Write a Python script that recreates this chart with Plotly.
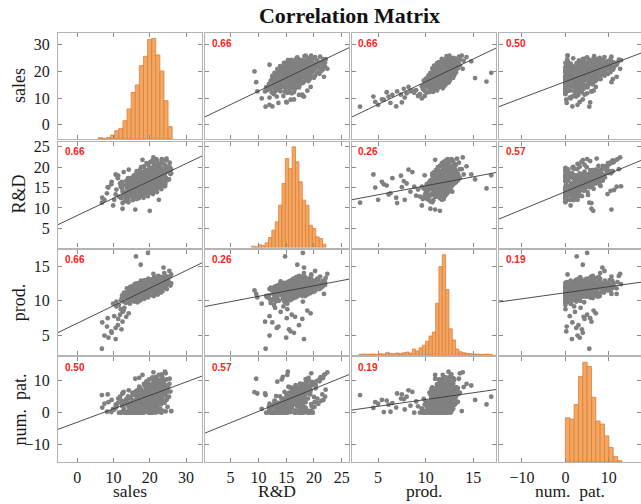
import plotly.graph_objects as go

# ---------------- data ----------------
var_labels = ["sales", "R&D", "prod.", "num.\u00a0\u00a0pat."]

sales = [
    6.8, 8.6, 10.6, 6.9, 9.5, 10.6, 9.4, 11.2, 12.5, 11.3, 8.2, 12.5, 11.8, 10.2, 12.0, 13.0, 10.8, 12.8, 11.5, 9.9, 7.5, 13.5, 14.2, 12.2,
    16.2, 19.5, 20.0, 12.5, 16.0, 17.1, 8.4, 25.9, 10.8, 21.0, 18.0, 22.5, 23.8, 17.5,
    12.1, 12.4, 12.7, 13.0, 13.2, 12.9, 13.4, 12.3,
    13.6, 13.8, 14.0, 14.2, 14.4, 14.6, 13.7, 14.1, 14.5, 13.9, 14.3, 14.6, 14.0, 14.4,
    14.8, 15.0, 15.2, 15.4, 15.6, 14.9, 15.1, 15.3, 15.5, 15.7, 14.8, 15.0, 15.2, 15.4, 15.6, 15.8, 15.1, 15.5, 14.9, 15.7,
    15.9, 16.0, 16.2, 16.4, 16.6, 16.8, 15.9, 16.1, 16.3, 16.5, 16.7, 16.0, 16.2, 16.4, 16.6, 16.8, 15.9, 16.3, 16.5, 16.7, 16.1, 16.9, 16.4, 16.6,
    17.0, 17.1, 17.2, 17.3, 17.4, 17.5, 17.6, 17.7, 17.8, 17.9, 17.0, 17.1, 17.2, 17.3, 17.4, 17.5, 17.6, 17.7, 17.8, 17.9, 17.0, 17.2, 17.4, 17.6, 17.8, 17.1, 17.3, 17.5, 17.7, 17.9, 17.2, 17.6,
    18.0, 18.1, 18.2, 18.3, 18.4, 18.5, 18.6, 18.7, 18.8, 18.9, 19.0, 19.1, 18.0, 18.2, 18.4, 18.6, 18.8, 19.0, 18.1, 18.3, 18.5, 18.7, 18.9, 19.1, 18.2, 18.4, 18.6, 18.8, 19.0, 19.1, 18.3, 18.5, 18.7, 18.9, 18.1, 19.0,
    19.2, 19.3, 19.4, 19.5, 19.6, 19.7, 19.8, 19.9, 20.0, 20.1, 20.2, 20.3, 19.2, 19.4, 19.6, 19.8, 20.0, 20.2, 19.3, 19.5, 19.7, 19.9, 20.1, 20.3, 19.2, 19.4, 19.6, 19.8, 20.0, 20.2, 19.3, 19.5, 19.7, 19.9, 20.1, 20.3, 19.4, 19.6, 19.8, 20.0, 20.2, 19.5,
    20.4, 20.5, 20.6, 20.7, 20.8, 20.9, 21.0, 21.1, 21.2, 21.3, 21.4, 20.4, 20.6, 20.8, 21.0, 21.2, 21.4, 20.5, 20.7, 20.9, 21.1, 21.3, 20.4, 20.6, 20.8, 21.0, 21.2, 21.4, 20.5, 20.7, 20.9, 21.1, 21.3, 20.4, 20.6, 20.8, 21.0, 21.2, 21.4, 20.5, 20.7, 21.1,
    21.5, 21.6, 21.7, 21.8, 21.9, 22.0, 22.1, 22.2, 22.3, 22.4, 22.5, 21.5, 21.7, 21.9, 22.1, 22.3, 22.5, 21.6, 21.8, 22.0, 22.2, 22.4, 21.5, 21.7, 21.9, 22.1, 22.3, 22.5, 21.6, 21.8, 22.0, 22.2, 22.4, 21.5, 21.9, 22.3,
    22.7, 22.8, 22.9, 23.0, 23.1, 23.2, 23.3, 23.4, 23.5, 23.6, 23.7, 22.7, 22.9, 23.1, 23.3, 23.5, 23.7, 22.8, 23.0, 23.2, 23.4, 23.6, 22.7, 22.9, 23.1, 23.3, 23.5, 23.7,
    23.9, 24.0, 24.1, 24.2, 24.3, 24.4, 24.5, 24.6, 24.7, 24.8, 24.9, 24.0, 24.2, 24.4, 24.6, 24.8,
    25.1, 25.3, 25.5, 25.7, 25.9, 25.4,
]

rd = [
    11.3, 15.0, 18.2, 12.5, 16.4, 13.3, 15.8, 17.3, 11.2, 17.9, 13.6, 14.0, 16.0, 12.0, 15.2, 13.0, 14.5, 18.8, 12.8, 10.6, 12.0, 16.6, 19.4, 15.5,
    14.8, 18.0, 9.3, 9.8, 9.6, 19.0, 15.1, 18.5, 18.0, 22.4, 21.8, 12.0, 18.2, 17.0,
    12.4, 14.8, 13.1, 11.6, 15.6, 13.9, 12.2, 16.4,
    13.2, 15.9, 12.1, 14.6, 16.8, 13.7, 14.9, 11.4, 15.2, 13.9, 12.8, 16.1, 17.3, 14.2,
    14.4, 12.9, 16.7, 15.1, 13.5, 17.4, 14.0, 11.9, 15.8, 14.7, 16.2, 13.3, 15.5, 12.6, 17.9, 14.3, 16.0, 13.1, 15.0, 16.5,
    15.3, 13.4, 17.2, 14.6, 16.3, 12.7, 18.1, 14.9, 13.0, 15.7, 17.6, 14.1, 16.0, 12.2, 15.0, 18.5, 13.8, 16.6, 14.4, 15.5, 17.0, 13.6, 19.0, 14.8,
    15.8, 13.9, 17.7, 15.1, 12.8, 16.9, 14.5, 18.8, 16.2, 13.5, 17.4, 15.4, 14.2, 19.3, 16.6, 13.2, 15.9, 17.1, 14.8, 18.2, 12.4, 16.4, 15.3, 20.0, 14.0, 16.8, 15.0, 18.5, 13.7, 16.0, 14.6, 17.6,
    16.3, 14.2, 18.0, 15.5, 13.6, 17.3, 15.0, 19.4, 16.7, 14.7, 17.9, 15.9, 13.0, 16.9, 20.2, 14.4, 16.1, 18.4, 15.2, 12.5, 16.5, 17.6, 15.6, 19.0, 14.9, 17.0, 16.0, 13.9, 16.8, 21.0, 18.3, 15.4, 14.1, 17.2, 16.6, 15.1,
    16.6, 14.5, 18.6, 15.8, 13.9, 17.5, 15.3, 19.8, 17.0, 14.8, 18.1, 16.2, 13.4, 17.2, 20.6, 14.7, 16.4, 18.8, 15.5, 12.9, 16.9, 17.8, 15.9, 19.3, 15.1, 17.4, 16.3, 14.2, 17.1, 21.3, 18.5, 15.7, 14.4, 17.6, 16.7, 15.4, 19.1, 16.0, 13.6, 18.3, 15.0, 17.9,
    17.1, 15.0, 19.1, 16.3, 14.4, 18.0, 15.8, 20.3, 17.5, 15.3, 18.6, 16.7, 13.9, 17.7, 21.1, 15.2, 16.9, 19.3, 16.0, 13.4, 17.4, 18.3, 16.4, 19.8, 15.6, 17.9, 16.8, 14.7, 17.6, 21.6, 19.0, 16.2, 14.9, 18.1, 17.2, 15.9, 19.6, 16.5, 14.1, 18.8, 15.5, 18.4,
    17.6, 15.5, 19.6, 16.8, 14.9, 18.5, 16.3, 20.8, 18.0, 15.8, 19.1, 17.2, 14.4, 18.2, 21.5, 15.7, 17.4, 19.8, 16.5, 13.9, 17.9, 18.8, 16.9, 20.3, 16.1, 18.4, 17.3, 15.2, 18.1, 22.0, 19.5, 16.7, 15.4, 18.6, 18.6, 20.1,
    18.1, 16.0, 20.1, 17.3, 15.4, 19.0, 16.8, 21.2, 18.5, 16.3, 19.6, 17.7, 14.9, 18.7, 22.0, 16.2, 17.9, 20.3, 17.0, 14.6, 18.4, 19.3, 17.4, 20.8, 16.6, 18.9, 21.6, 17.8,
    18.6, 16.5, 20.6, 17.8, 15.9, 19.5, 17.3, 21.7, 19.0, 16.8, 20.1, 18.2, 15.3, 19.2, 22.1, 18.9,
    19.1, 17.0, 21.1, 18.3, 19.5, 20.2,
]

prod = [
    3.1, 4.7, 4.5, 6.9, 5.4, 6.1, 5.6, 6.5, 7.0, 7.4, 6.3, 8.4, 8.0, 7.8, 8.8, 9.0, 9.2, 8.6, 9.4, 9.6, 5.0, 7.7, 8.2, 5.9,
    16.4, 16.9, 11.5, 10.5, 11.0, 12.0, 7.5, 12.5, 9.9, 13.9, 11.0, 11.7, 14.8, 15.2,
    10.1, 10.8, 9.9, 10.5, 10.9, 11.2, 9.7, 10.4,
    10.6, 11.3, 10.2, 10.9, 11.5, 10.0, 11.8, 10.7, 9.6, 11.1, 10.4, 12.0, 10.8, 11.6,
    10.9, 11.4, 10.5, 11.7, 10.2, 11.2, 12.1, 10.8, 11.0, 9.9, 11.9, 10.6, 11.3, 11.6, 10.7, 12.4, 10.3, 11.1, 10.1, 11.8,
    11.2, 10.7, 11.8, 10.4, 11.5, 11.0, 10.9, 12.3, 11.4, 10.1, 12.0, 11.6, 10.6, 11.9, 11.1, 10.8, 11.3, 12.5, 10.3, 11.7, 11.0, 12.2, 11.4, 9.8,
    11.3, 10.9, 11.9, 12.3, 11.1, 10.6, 11.6, 12.0, 10.4, 11.5, 11.8, 12.6, 10.8, 11.2, 11.7, 12.1, 10.2, 11.4, 11.0, 12.4, 11.5, 10.7, 11.9, 11.3, 12.8, 11.6, 10.5, 11.1, 12.2, 11.8, 10.0, 12.9,
    11.5, 11.0, 12.1, 10.8, 11.7, 12.4, 11.2, 11.8, 10.6, 12.0, 11.4, 12.7, 11.3, 10.9, 11.9, 11.6, 12.3, 10.7, 11.1, 11.8, 12.6, 11.0, 11.5, 12.2, 10.4, 11.4, 13.0, 11.2, 11.9, 11.7, 12.5, 10.3, 12.1, 11.3, 11.6, 10.9,
    11.7, 11.2, 12.3, 11.0, 12.0, 12.6, 11.4, 11.9, 10.8, 12.2, 11.6, 12.9, 11.5, 11.1, 12.1, 11.8, 12.5, 10.9, 11.3, 12.0, 12.8, 11.2, 11.7, 12.4, 10.6, 11.6, 13.2, 11.4, 12.1, 11.9, 12.7, 10.5, 12.3, 11.5, 11.8, 11.1, 11.8, 12.4, 11.0, 12.0, 12.6, 11.3,
    11.9, 11.4, 12.5, 11.2, 12.2, 12.8, 11.6, 12.1, 11.0, 12.4, 11.8, 13.1, 11.7, 11.3, 12.3, 12.0, 12.7, 11.1, 11.5, 12.2, 13.0, 11.4, 11.9, 12.6, 10.8, 11.8, 13.4, 11.6, 12.3, 12.1, 12.9, 10.7, 12.5, 11.7, 12.0, 11.3, 12.0, 12.6, 11.2, 12.2, 12.8, 11.5,
    12.1, 11.6, 12.7, 11.4, 12.4, 13.0, 11.8, 12.3, 11.2, 12.6, 12.0, 13.3, 11.9, 11.5, 12.5, 12.2, 12.9, 11.3, 11.7, 12.4, 13.2, 11.6, 12.1, 12.8, 11.0, 12.0, 13.6, 11.8, 12.5, 12.3, 13.1, 10.9, 12.7, 11.9, 12.2, 12.4,
    12.3, 11.8, 12.9, 11.6, 12.6, 13.2, 12.0, 12.5, 11.4, 12.8, 12.2, 13.5, 12.1, 11.7, 12.7, 12.4, 13.1, 11.5, 11.9, 12.6, 13.4, 11.8, 12.3, 13.0, 11.2, 12.2, 12.9, 12.0,
    12.6, 12.0, 13.2, 11.9, 12.9, 13.6, 12.3, 12.8, 11.7, 13.1, 12.5, 14.0, 12.4, 12.1, 13.3, 12.7,
    12.9, 12.4, 13.5, 12.2, 13.8, 14.3,
]

pat = [
    5.5, 3.3, 1.5, 1.6, 4.0, 2.5, 0.2, 3.0, 6.0, 4.4, 0.3, 2.2, 5.0, 1.0, 0.0, 3.5, 2.0, 6.5, 0.0, 1.2, 2.8, 4.2, 7.0, 3.8,
    2.6, 5.0, 6.4, 6.0, 10.6, 10.9, 5.7, 0.5, 2.5, 12.6, 11.8, 1.2, 8.5, 4.0,
    0.0, 2.1, 0.6, 0.0, 3.4, 1.2, 0.0, 2.8,
    0.0, 3.6, 0.4, 1.9, 4.7, 0.0, 2.5, 0.0, 1.3, 3.0, 0.0, 2.2, 5.1, 0.8,
    4.4, 3.1, 0.7, 5.6, 1.5, 0.0, 2.7, 1.9, 3.8, 0.0, 4.9, 1.0, 6.2, 2.3, 0.0, 3.3, 1.4, 0.3, 2.0, 0.0,
    2.6, 0.9, 5.3, 1.8, 4.0, 0.0, 6.4, 3.2, 0.0, 2.2, 4.8, 1.4, 3.9, 0.2, 2.9, 7.1, 0.0, 5.8, 1.1, 3.5, 2.0, 0.6, 6.9, 4.3,
    5.9, 2.8, 0.0, 4.6, 2.0, 7.4, 3.7, 0.4, 6.3, 2.5, 1.6, 8.1, 4.2, 0.0, 3.1, 5.2, 2.3, 6.7, 0.0, 3.9, 1.9, 7.9, 0.8, 4.9, 2.7, 5.5, 1.0, 3.3, 0.0, 4.4, 3.4, 1.2,
    4.1, 1.7, 6.6, 3.0, 0.5, 5.4, 2.6, 8.3, 4.8, 1.4, 7.0, 3.6, 0.0, 4.5, 9.0, 2.1, 3.9, 6.1, 2.9, 0.0, 5.0, 3.3, 1.8, 7.7, 0.9, 5.8, 2.4, 0.3, 4.6, 9.8, 6.8, 3.2, 1.1, 5.3, 0.0, 2.2,
    7.2, 3.5, 0.8, 6.0, 3.0, 9.1, 5.2, 1.6, 7.6, 4.0, 0.0, 5.1, 9.7, 2.5, 4.4, 6.5, 3.3, 0.0, 5.6, 3.8, 2.2, 8.2, 1.3, 6.3, 2.8, 0.5, 5.0, 10.4, 7.1, 3.7, 1.5, 5.7, 0.0, 2.6, 8.6, 4.3, 0.2, 6.9, 3.1, 5.4, 4.7, 2.0,
    5.3, 2.7, 7.8, 4.1, 1.4, 6.6, 3.6, 9.7, 5.8, 2.2, 8.2, 4.6, 0.0, 5.7, 10.3, 3.1, 5.0, 7.1, 3.9, 0.4, 6.2, 4.4, 2.8, 8.8, 1.9, 6.9, 3.4, 1.1, 5.6, 11.0, 7.7, 4.3, 2.0, 6.3, 0.0, 3.2, 9.2, 4.9, 0.7, 7.4, 3.7, 6.0,
    8.4, 4.8, 2.0, 7.3, 4.2, 10.5, 6.4, 2.8, 8.9, 5.3, 0.6, 6.6, 11.2, 3.7, 5.7, 7.9, 4.5, 0.0, 6.9, 5.1, 3.5, 9.5, 2.5, 7.6, 4.0, 1.6, 6.3, 11.8, 8.3, 5.0, 2.7, 7.0, 0.3, 9.9, 6.0, 3.3,
    6.6, 3.8, 9.1, 5.4, 2.6, 8.0, 4.9, 11.1, 7.0, 3.4, 9.6, 5.9, 1.2, 7.3, 12.0, 4.3, 6.2, 8.6, 5.0, 0.0, 7.7, 5.7, 4.1, 10.2, 3.0, 8.2, 10.8, 0.6,
    9.8, 6.0, 3.1, 8.7, 5.5, 12.3, 7.6, 4.0, 10.4, 6.5, 1.8, 8.0, 12.8, 0.4, 7.2, 4.4,
    7.9, 5.0, 10.6, 6.6, 0.5, 9.0,
]

assert len(sales) == len(rd) == len(prod) == len(pat)

# histogram bins
sales_bin_start, sales_bin_width = 5.83, 1.13
sales_counts = [4, 2, 5, 12, 25, 32, 55, 90, 140, 162, 220, 248, 298, 302, 252, 204, 115, 37]
rd_bin_start, rd_bin_width = 8.77, 0.608
rd_counts = [4, 2, 8, 6, 14, 30, 52, 77, 127, 192, 267, 237, 302, 257, 197, 142, 127, 67, 57, 32, 27, 10]
prod_bin_start, prod_bin_width = 3.0, 0.35
prod_counts = [2, 3, 2, 3, 3, 2, 4, 3, 8, 5, 4, 6, 5, 7, 9, 6,
               18, 12, 22, 30, 42, 58, 70, 158, 270, 306, 200, 80, 46, 18, 10, 7,
               5, 4, 3, 3, 2, 2, 3, 2]
pat_bin_start, pat_bin_width = 0.0, 1.0
pat_counts = [134, 130, 174, 259, 302, 289, 196, 124, 115, 79, 44, 17, 4]

# correlation coefficients shown in the panels
corr = [[1.00, 0.66, 0.66, 0.50],
        [0.66, 1.00, 0.26, 0.57],
        [0.66, 0.26, 1.00, 0.19],
        [0.50, 0.57, 0.19, 1.00]]

# fitted lines: row variable = intercept + slope * column variable
reg_intercept = [[0.0, 2.6, -0.85, 16.2],
                 [8.15, 0.0, 11.03, 14.0],
                 [6.77, 9.13, 0.0, 11.17],
                 [-2.98, -6.64, -0.12, 0.0]]
reg_slope = [[0.0, 1.0, 1.70, 0.613],
             [0.424, 0.0, 0.44, 0.44],
             [0.253, 0.152, 0.0, 0.0873],
             [0.419, 0.705, 0.423, 0.0]]

tick_values = [[0, 10, 20, 30], [5, 10, 15, 20, 25], [5, 10, 15], [-10, 0, 10]]

# ---------------- layout / style ----------------
axis_ranges = [[-5.3, 34.4], [0.3, 26.3], [2.2, 17.4], [-15.4, 17.4]]
data = [sales, rd, prod, pat]
hists = [(sales_bin_start, sales_bin_width, sales_counts),
         (rd_bin_start, rd_bin_width, rd_counts),
         (prod_bin_start, prod_bin_width, prod_counts),
         (pat_bin_start, pat_bin_width, pat_counts)]
HIST_FILL_FRACTION = 0.95  # tallest bar reaches 95% of the panel height

W, H = 641, 504
ML, MR, MT, MB = 58, 0, 33, 42
PW, PH = W - ML - MR, H - MT - MB
col_px = [(0, 144), (146.5, 291), (293.5, 438), (440.5, PW)]
row_px = [(0, 106), (108.5, 214.5), (216.5, 322), (324, PH)]
xdom = [[a / PW, b / PW] for a, b in col_px]
ydom = [[1 - b / PH, 1 - a / PH] for a, b in row_px]

SERIF = "Liberation Serif"
frame = dict(showline=True, linecolor="#b4b4b4", linewidth=1.3, mirror="ticks",
             ticks="inside", ticklen=4, tickwidth=1, tickcolor="#8c8c8c",
             showgrid=False, zeroline=False, automargin=False,
             tickfont=dict(family=SERIF, size=16, color="#1a1a1a"))

PT_COLOR = "#808080"
LINE_COLOR = "#3a3a3a"
BAR_FILL = "#f2a862"
BAR_EDGE = "#e07d3a"

fig = go.Figure()
layout = {}
annotations = []


def sfx(k):
    return "" if k == 1 else str(k)


for i in range(4):
    for j in range(4):
        k = 4 * i + j + 1
        xid, yid = "x" + sfx(k), "y" + sfx(k)
        layout["xaxis" + sfx(k)] = dict(domain=xdom[j], range=axis_ranges[j], tickvals=tick_values[j],
                                        showticklabels=(i == 3), anchor=yid, ticklabelstandoff=1, **frame)
        layout["yaxis" + sfx(k)] = dict(domain=ydom[i], range=axis_ranges[i], tickvals=tick_values[i],
                                        showticklabels=(j == 0), anchor=xid, ticklabelstandoff=4, **frame)
        if i == j:
            start, width, counts = hists[i]
            lo, hi = axis_ranges[i]
            scale = (hi - lo) * HIST_FILL_FRACTION / max(counts)
            centers = [start + width * (n + 0.5) for n in range(len(counts))]
            fig.add_trace(go.Bar(x=centers, y=[c * scale for c in counts], base=lo, width=width,
                                 xaxis=xid, yaxis=yid,
                                 marker=dict(color=BAR_FILL, line=dict(color=BAR_EDGE, width=0.8)),
                                 showlegend=False, hoverinfo="skip"))
        else:
            fig.add_trace(go.Scatter(x=data[j], y=data[i], mode="markers", xaxis=xid, yaxis=yid,
                                     marker=dict(size=4.8, color=PT_COLOR, line=dict(width=0)),
                                     showlegend=False, hoverinfo="skip"))
            xs = axis_ranges[j]
            ys = [reg_intercept[i][j] + reg_slope[i][j] * x for x in xs]
            fig.add_trace(go.Scatter(x=xs, y=ys, mode="lines", xaxis=xid, yaxis=yid,
                                     line=dict(color=LINE_COLOR, width=0.9),
                                     showlegend=False, hoverinfo="skip"))
            annotations.append(dict(text="<b>%.2f</b>" % corr[i][j], showarrow=False,
                                    xref=xid + " domain", yref=yid + " domain", x=0, y=1,
                                    xanchor="left", yanchor="middle", xshift=5, yshift=-10,
                                    font=dict(family="Liberation Sans", size=10, color="#ff2020")))

# axis titles
for i in range(4):
    annotations.append(dict(text=var_labels[i], showarrow=False, textangle=-90,
                            xref="paper", yref="paper", x=0, y=sum(ydom[i]) / 2,
                            xanchor="center", yanchor="middle", xshift=-39,
                            font=dict(family=SERIF, size=18, color="#1a1a1a")))
    annotations.append(dict(text=var_labels[i], showarrow=False,
                            xref="paper", yref="paper", x=sum(xdom[i]) / 2, y=0,
                            xanchor="center", yanchor="bottom", yshift=-41,
                            font=dict(family=SERIF, size=17.5, color="#1a1a1a")))

layout.update(
    width=W, height=H,
    margin=dict(l=ML, r=MR, t=MT, b=MB, pad=0, autoexpand=False),
    paper_bgcolor="white", plot_bgcolor="white",
    showlegend=False, barmode="overlay",
    title=dict(text="<b>Correlation Matrix</b>", x=0.5, xref="paper", xanchor="center",
               y=1 - 15 / H, yref="container", yanchor="middle",
               font=dict(family=SERIF, size=22, color="#111111")),
    annotations=annotations,
)
fig.update_layout(**layout)
# the page body has a default 8px margin; remove it so the figure sits at the window origin
fig.write_html("out.html", config={"displayModeBar": False},
               post_script="document.body.style.margin='0';")
